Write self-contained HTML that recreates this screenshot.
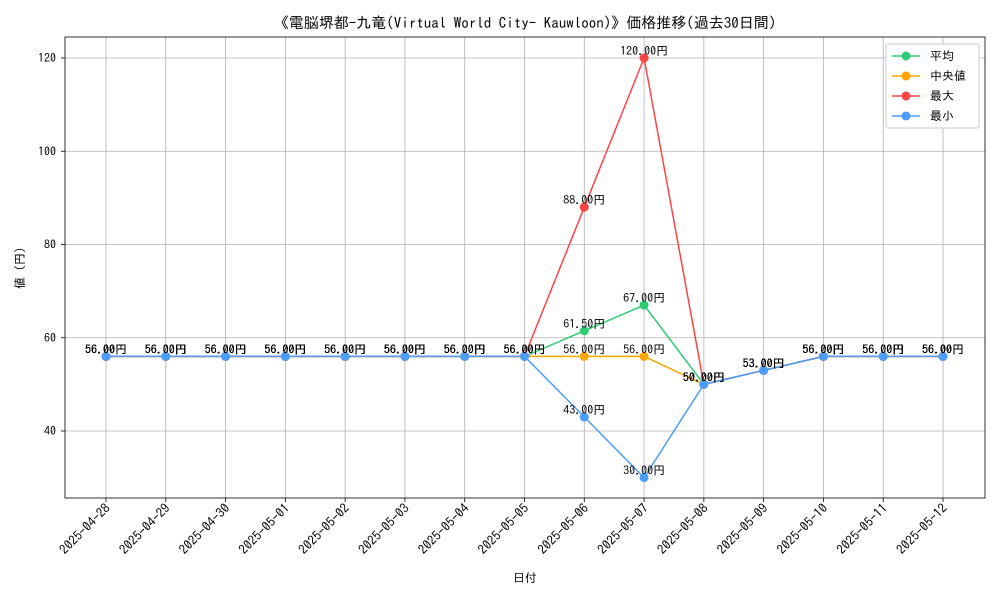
<!DOCTYPE html>
<html><head><meta charset="utf-8"><style>
html,body{margin:0;padding:0;background:#fff}
svg{font-family:"IPAGothic","Liberation Sans","Noto Sans CJK JP",sans-serif}
</style></head><body>
<svg id="chart" width="1000" height="600"></svg>
<script>
const categories=["2025-04-28","2025-04-29","2025-04-30","2025-05-01","2025-05-02","2025-05-03","2025-05-04","2025-05-05","2025-05-06","2025-05-07","2025-05-08","2025-05-09","2025-05-10","2025-05-11","2025-05-12"];
const avgValues=[56,56,56,56,56,56,56,56,61.5,67,50,53,56,56,56];
const medianValues=[56,56,56,56,56,56,56,56,56,56,50,53,56,56,56];
const maxValues=[56,56,56,56,56,56,56,56,88,120,50,53,56,56,56];
const minValues=[56,56,56,56,56,56,56,56,43,30,50,53,56,56,56];
const yTicks=[40,60,80,100,120];
const seriesNames=["平均","中央値","最大","最小"];
const seriesColors=["#2ecc71","#ffa500","#ff4444","#4a9eff"];

const NS="http://www.w3.org/2000/svg";
const svg=document.getElementById('chart');
const L=65,R=985,T=37,B=498;
function xs(i){return 106+i*(943-106)/(categories.length-1);}
function ys(v){return 617.5-v*4.6625;}
function mk(tag,attrs,parent){const e=document.createElementNS(NS,tag);for(const k in attrs)e.setAttribute(k,attrs[k]);(parent||svg).appendChild(e);return e;}

categories.forEach((c,i)=>{
  const g=mk('line',{x1:xs(i),x2:xs(i),y1:T,y2:B,stroke:'#b0b0b0','stroke-width':0.8});
  
  
  const tk=mk('line',{x1:xs(i),x2:xs(i),y1:B,y2:B+4,stroke:'#000','stroke-width':0.8});
  
  
  const t=mk('text',{x:xs(i)+5,y:B+11,'font-size':13,'text-anchor':'end',transform:`rotate(-45 ${xs(i)+5} ${B+11})`});
  t.textContent=c;
  
  
});
yTicks.forEach(v=>{
  const g=mk('line',{x1:L,x2:R,y1:ys(v),y2:ys(v),stroke:'#b0b0b0','stroke-width':0.8});
  
  
  const tk=mk('line',{x1:L-4,x2:L,y1:ys(v),y2:ys(v),stroke:'#000','stroke-width':0.8});
  
  
  const t=mk('text',{x:L-9,y:ys(v)+4,'font-size':12,'text-anchor':'end'});
  t.textContent=v;
  
  
});
const frame=mk('rect',{x:L,y:T,width:R-L,height:B-T,fill:'none',stroke:'#000','stroke-width':0.8});



const allSeries=[avgValues,medianValues,maxValues,minValues];
allSeries.forEach((vals,s)=>{
  const pts=vals.map((v,i)=>xs(i)+','+ys(v)).join(' ');
  const pl=mk('polyline',{points:pts,fill:'none',stroke:seriesColors[s],'stroke-width':1.5});
  
  
  vals.forEach((v,i)=>{
    const c=mk('circle',{cx:xs(i),cy:ys(v),r:4.5,fill:seriesColors[s]});
    
    
  });
});
allSeries.forEach((vals,s)=>{
  vals.forEach((v,i)=>{
    const t=mk('text',{x:xs(i),y:ys(v)-3,'font-size':12,'text-anchor':'middle'});
    t.textContent=v.toFixed(2)+'円';
    
    
  });
});

const title=mk('text',{x:525,y:28,'font-size':15,'text-anchor':'middle'});
title.textContent='《電脳堺都-九竜(Virtual World City- Kauwloon)》価格推移(過去30日間)';


const xl=mk('text',{x:525,y:582,'font-size':12,'text-anchor':'middle'});
xl.textContent='日付';


const yl=mk('text',{x:24,y:268,'font-size':12,'text-anchor':'middle',transform:'rotate(-90 24 268)'});
yl.textContent='値 (円)';



const lg=mk('g',{});


mk('rect',{x:886,y:44,width:93,height:84,fill:'#fff',stroke:'#ccc',rx:2},lg);
seriesNames.forEach((n,s)=>{
  const y=56+s*20;
  const e=mk('g',{},lg);
  
  
  mk('line',{x1:892,x2:920,y1:y,y2:y,stroke:seriesColors[s],'stroke-width':1.5},e);
  mk('circle',{cx:906,cy:y,r:4.5,fill:seriesColors[s]},e);
  const t=mk('text',{x:930,y:y+4,'font-size':12},e);
  t.textContent=(s==1?' ':'')+n;
});
</script>
</body></html>
